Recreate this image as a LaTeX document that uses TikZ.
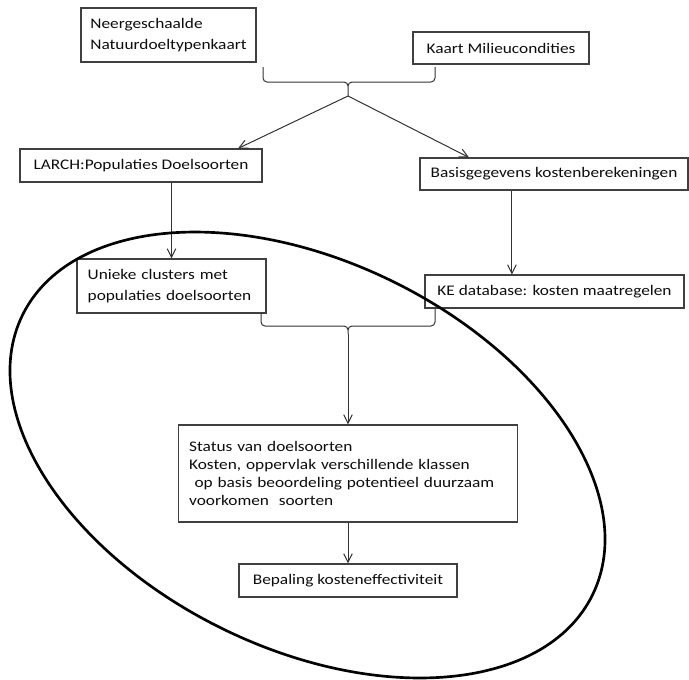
\documentclass[tikz,border=0pt]{standalone}
\usepackage{fontspec}
\setmainfont{Carlito}[FakeStretch=1.18]
\usetikzlibrary{arrows.meta}

\begin{document}
\begin{tikzpicture}
	[%
	x=0.75pt, y=-0.75pt,%
	>={Straight Barb[length=6.5pt, width=6.5pt]},%
	box/.style   ={rectangle,	draw=black!75,	line width=0.8pt,	text=black!95,	inner xsep=8pt,	inner ysep=0pt,	font=\fontsize{11}{13.3}\selectfont},%
	boxtxt/.style={box,	align=left},%
	link/.style  ={draw=black!80,	line width=0.75pt},%
	brc/.style   ={link,	rounded corners=3pt},%
	oval/.style  ={draw=black,	line width=2pt},%
	]

	\newcommand{\xmid}{348}
	\newcommand{\xbl}{263}
	\newcommand{\xbr}{435}

	\useasboundingbox (0,0) rectangle (689,679);

	% nodes
	\node (neer)   at (168.5,35)  [boxtxt, inner xsep=7pt, text width=117.25pt, minimum height=40.5pt, font=\fontsize{11}{15.75}\selectfont] {Neergeschaalde\\Natuurdoeltypenkaart};
	\node (kaart)  at (501,48)    [box, minimum width=132pt, minimum height=24pt] {Kaart Milieucondities};
	\node (larch)  at (141,165.5) [box, minimum width=181.5pt, minimum height=24.75pt] {LARCH:Populaties Doelsoorten};
	\node (basis)  at (554,174)   [box, minimum width=201pt, minimum height=24pt] {Basisgegevens kostenberekeningen};
	\node (unieke) at (171.5,286) [boxtxt, text width=125.75pt, minimum height=40.5pt, font=\fontsize{11}{15.5}\selectfont] {Unieke clusters met\\populaties doelsoorten};
	\node (ke)     at (554.5,291.5) [box, minimum width=194.25pt, minimum height=24.75pt] {KE database: kosten maatregelen};
	\node (status) at (\xmid,473.5) [boxtxt, text width=238.25pt, minimum height=72.75pt] {Status van doelsoorten\\Kosten, oppervlak verschillende klassen\\\hspace*{4pt}op basis beoordeling potentieel duurzaam\\voorkomen\ \ soorten};
	\node (bepal)  at (\xmid,580.5) [box, minimum width=163.5pt, minimum height=24.75pt] {Bepaling kosteneffectiviteit};

	% brace points
	\coordinate (b1l) at (\xbl,67);	\coordinate (b1r) at (\xbr,67);
	\coordinate (b1c) at (\xmid,82);	\coordinate (b1m) at (\xmid,96);
	\coordinate (b2l) at (\xbl-2,313);	\coordinate (b2r) at (\xbr,308);
	\coordinate (b2c) at (\xmid,326);	\coordinate (b2m) at (\xmid,334);

	\coordinate (larchin) at ([xshift=72.75pt]larch.north);
	\coordinate (basisin) at ([xshift=-63.75pt]basis.north);
	\coordinate (kein)    at ([xshift=-31.9pt]ke.north);

	% braces
	\foreach \i in {1,2}%
		\draw [brc] (b\i l) |- (b\i c) -- (b\i m) (b\i r) |- (b\i c) -- (b\i m);

	% interconnections
	\draw [link, ->] (b1m) -- (larchin);
	\draw [link, ->] (b1m) -- (basisin);
	\draw [link, ->] (larch.south -| unieke.north) -- (unieke.north);
	\draw [link, ->] (basis.south -| kein) -- (kein);
	\draw [link, ->] (b2m) -- (status.north);
	\draw [link, ->] (status) -- (bepal);

	% ellipse round the analysis part
	\draw [oval] (307.5,455) ellipse [x radius=317.5, y radius=193.4, rotate=-26.15];

\end{tikzpicture}
\end{document}
